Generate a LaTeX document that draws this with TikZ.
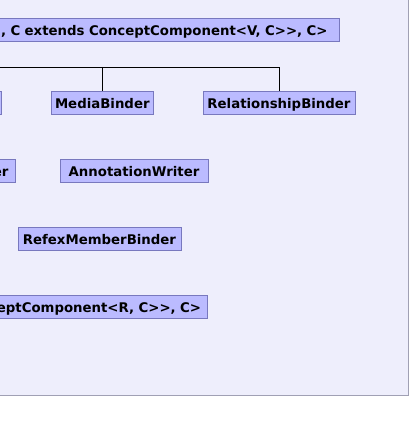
\documentclass[tikz,border=0pt]{standalone}
\usepackage{fontspec}
\setmainfont{DejaVu Sans}
\definecolor{panelfill}{RGB}{238,238,252}
\definecolor{paneldraw}{RGB}{160,160,180}
\definecolor{boxfill}{RGB}{187,187,255}
\definecolor{boxdraw}{RGB}{120,120,190}
\newcommand{\dblgt}{>\kern0pt>}
\tikzset{
  cls/.style={draw=boxdraw, fill=boxfill, line width=0.9pt, inner xsep=0pt, inner ysep=0pt,
    minimum height=23pt, text height=11.6pt, text depth=0pt,
    font=\bfseries\fontsize{13.3}{15}\selectfont, text=black},
  link/.style={draw=black, line width=0.9pt}
}
\begin{document}
\begin{tikzpicture}[x=1pt,y=-1pt]
\useasboundingbox (0,0) rectangle (411,433);
\clip (0,0) rectangle (411,433);
\filldraw[fill=panelfill, draw=paneldraw, line width=1pt] (-20,-20) rectangle (408.3,395.3);
% nodes
\node[cls, minimum width=420pt, anchor=east, text width=396pt, align=right] (base) at (340,29.5) {, C extends ConceptComponent<V, C\dblgt, C>};
\node[cls, minimum width=60pt, anchor=east] (leftone) at (1.5,102.5) {};
\node[cls, minimum width=102pt] (media) at (102.3,102.5) {MediaBinder};
\node[cls, minimum width=152pt] (rel) at (279,102.5) {RelationshipBinder};
\node[cls, minimum width=120pt, anchor=east, text width=107pt, align=right] (reader) at (15.5,170.5) {er};
\node[cls, minimum width=148pt] (annot) at (134,170.5) {AnnotationWriter};
\node[cls, minimum width=163pt] (refex) at (99.5,238.5) {RefexMemberBinder};
\node[cls, minimum width=420pt, anchor=east, text width=408pt, align=right] (rbase) at (207.5,306.5) {eptComponent<R, C\dblgt, C>};
% connectors
\coordinate (jl) at (-10,67);
\coordinate (jm) at (media.north |- jl);
\coordinate (jr) at (rel.north |- jl);
\draw[link] (jl) -- (jr) -- (rel.north);
\draw[link] (jm) -- (media.north);
\end{tikzpicture}
\end{document}
